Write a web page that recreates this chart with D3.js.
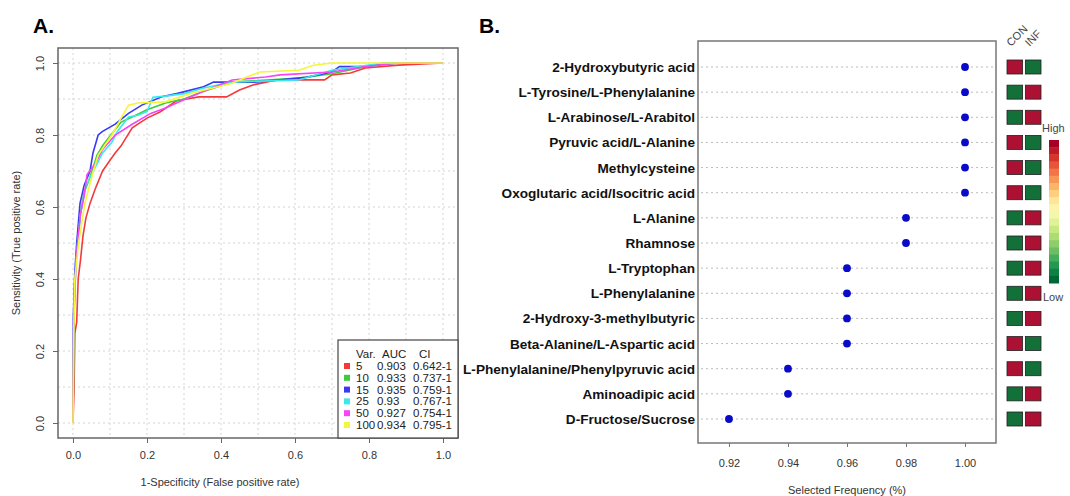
<!DOCTYPE html>
<meta charset="utf-8">
<style>
  body { margin: 0; background: #fff; }
  svg text { font-family: "Liberation Sans", Arial, sans-serif; }
  .panel { font-weight: bold; font-size: 21px; fill: #000; }
  .tick text { fill: #333; font-size: 11px; }
  .axTitle { fill: #333; font-size: 11px; }
  .rowLab { font-weight: bold; font-size: 13.6px; fill: #111; }
  .leg { font-size: 11.5px; fill: #222; }
</style>
<body>
<script src="https://cdn.jsdelivr.net/npm/d3@7"></script>
<script>

// ---- panel A data: ROC curves (fpr, tpr) ----
var roc5 = [[0,0],[0.003,0.1],[0.005,0.25],[0.01,0.28],[0.014,0.40],[0.02,0.45],[0.027,0.52],[0.035,0.57],[0.046,0.61],[0.06,0.65],[0.08,0.70],[0.1,0.73],[0.114,0.75],[0.13,0.77],[0.16,0.82],[0.2,0.847],[0.235,0.864],[0.28,0.895],[0.34,0.906],[0.415,0.906],[0.45,0.925],[0.49,0.94],[0.55,0.953],[0.68,0.953],[0.70,0.967],[0.75,0.972],[0.79,0.986],[0.88,0.994],[1,1]];
var roc10 = [[0,0],[0.003,0.3],[0.008,0.45],[0.02,0.58],[0.03,0.64],[0.045,0.68],[0.065,0.744],[0.08,0.77],[0.095,0.79],[0.13,0.836],[0.16,0.85],[0.2,0.87],[0.25,0.889],[0.30,0.90],[0.35,0.92],[0.4,0.937],[0.43,0.947],[0.61,0.958],[0.70,0.97],[0.79,0.99],[0.88,1],[1,1]];
var roc15 = [[0,0],[0.001,0.3],[0.005,0.42],[0.01,0.5],[0.019,0.61],[0.03,0.66],[0.046,0.70],[0.054,0.75],[0.068,0.80],[0.08,0.81],[0.114,0.83],[0.15,0.86],[0.186,0.883],[0.24,0.906],[0.28,0.915],[0.35,0.933],[0.38,0.947],[0.49,0.947],[0.56,0.953],[0.63,0.96],[0.70,0.975],[0.72,0.99],[0.79,0.99],[0.84,1],[1,1]];
var roc25 = [[0,0],[0.002,0.3],[0.008,0.45],[0.02,0.58],[0.035,0.66],[0.055,0.70],[0.08,0.75],[0.105,0.78],[0.12,0.81],[0.15,0.85],[0.175,0.855],[0.2,0.865],[0.216,0.905],[0.25,0.908],[0.30,0.915],[0.35,0.93],[0.43,0.947],[0.61,0.953],[0.70,0.98],[0.77,0.99],[0.84,1],[1,1]];
var roc50 = [[0,0],[0.002,0.3],[0.008,0.45],[0.02,0.58],[0.03,0.63],[0.038,0.69],[0.06,0.72],[0.08,0.76],[0.114,0.80],[0.16,0.83],[0.21,0.86],[0.25,0.875],[0.28,0.889],[0.34,0.916],[0.43,0.953],[0.52,0.961],[0.56,0.967],[0.70,0.975],[0.79,0.99],[0.88,1],[1,1]];
var roc100 = [[0,0],[0.002,0.25],[0.005,0.40],[0.015,0.5],[0.032,0.61],[0.055,0.70],[0.068,0.744],[0.105,0.80],[0.13,0.847],[0.15,0.883],[0.175,0.889],[0.25,0.892],[0.32,0.916],[0.43,0.944],[0.47,0.961],[0.505,0.975],[0.61,0.98],[0.65,0.994],[0.70,1],[1,1]];

var varNames = ["5", "10", "15", "25", "50", "100"];
var aucValues = ["0.903", "0.933", "0.935", "0.93", "0.927", "0.934"];
var ciLabels = ["0.642-1", "0.737-1", "0.759-1", "0.767-1", "0.754-1", "0.795-1"];
var seriesColors = ["#f23a3a", "#3ccc3c", "#3a3af0", "#3aeaea", "#f545f5", "#f5f53a"];
var rocSeries = [roc5, roc10, roc15, roc25, roc50, roc100];

var rocTicks = [0, 0.2, 0.4, 0.6, 0.8, 1.0];

// ---- panel B data ----
var metabolites = ["2-Hydroxybutyric acid", "L-Tyrosine/L-Phenylalanine", "L-Arabinose/L-Arabitol",
  "Pyruvic acid/L-Alanine", "Methylcysteine", "Oxoglutaric acid/Isocitric acid", "L-Alanine",
  "Rhamnose", "L-Tryptophan", "L-Phenylalanine", "2-Hydroxy-3-methylbutyric",
  "Beta-Alanine/L-Aspartic acid", "L-Phenylalanine/Phenylpyruvic acid", "Aminoadipic acid",
  "D-Fructose/Sucrose"];
var frequency = [1, 1, 1, 1, 1, 1, 0.98, 0.98, 0.96, 0.96, 0.96, 0.96, 0.94, 0.94, 0.92];
// 1 = high, 0 = low
var conLevel = [1, 0, 0, 1, 1, 1, 0, 0, 0, 0, 0, 1, 1, 0, 0];
var infLevel = [0, 1, 1, 0, 0, 0, 1, 1, 1, 1, 1, 0, 0, 1, 1];
var groups = ["CON", "INF"];
var freqTicks = [0.92, 0.94, 0.96, 0.98, 1.00];

var svg = d3.select("body").append("svg")
  .attr("width", 1070)
  .attr("height", 496);

// panel letters
svg.append("text").attr("class", "panel").attr("x", 33).attr("y", 33).text("A.");
svg.append("text").attr("class", "panel").attr("x", 479).attr("y", 33).text("B.");

//////////////////////////////////////////////////
// panel A: ROC
var boxA = { left: 58, right: 458, top: 48, bottom: 438 };
var x = d3.scaleLinear().domain([0, 1]).range([73, 443]);
var y = d3.scaleLinear().domain([0, 1]).range([423, 63]);

var gA = svg.append("g");

// grid
var grid = d3.range(0, 11).map(function (i) { return i / 10; });
gA.selectAll(".vg").data(grid).enter().append("line")
  .attr("x1", function (d) { return x(d); }).attr("x2", function (d) { return x(d); })
  .attr("y1", boxA.top).attr("y2", boxA.bottom)
  .attr("stroke", "#d4d4d4").attr("stroke-dasharray", "2,3");
gA.selectAll(".hg").data(grid).enter().append("line")
  .attr("y1", function (d) { return y(d); }).attr("y2", function (d) { return y(d); })
  .attr("x1", boxA.left).attr("x2", boxA.right)
  .attr("stroke", "#d4d4d4").attr("stroke-dasharray", "2,3");

// curves
var line = d3.line()
  .x(function (d) { return x(d[0]); })
  .y(function (d) { return y(d[1]); });
gA.selectAll(".roc").data(rocSeries).enter().append("path")
  .attr("d", line)
  .attr("fill", "none")
  .attr("stroke-width", 1.6)
  .attr("stroke", function (d, i) { return seriesColors[i]; });

// box
gA.append("rect")
  .attr("x", boxA.left).attr("y", boxA.top)
  .attr("width", boxA.right - boxA.left).attr("height", boxA.bottom - boxA.top)
  .attr("fill", "none").attr("stroke", "#666").attr("stroke-width", 1.5);

// axes
var axB = gA.append("g").attr("transform", "translate(0," + boxA.bottom + ")")
  .call(d3.axisBottom(x).tickValues(rocTicks).tickFormat(d3.format(".1f")).tickSize(5).tickPadding(8));
axB.select(".domain").remove();
axB.selectAll(".tick line").attr("stroke", "#666");

var axL = gA.append("g").attr("transform", "translate(" + boxA.left + ",0)")
  .call(d3.axisLeft(y).tickValues(rocTicks).tickFormat(d3.format(".1f")).tickSize(5));
axL.select(".domain").remove();
axL.selectAll(".tick line").attr("stroke", "#666");
axL.selectAll(".tick text")
  .attr("x", 0).attr("dy", 0)
  .attr("transform", "translate(-14,0) rotate(-90)")
  .attr("text-anchor", "middle");

gA.append("text").attr("class", "axTitle")
  .attr("x", 220).attr("y", 486).attr("text-anchor", "middle")
  .text("1-Specificity (False positive rate)");
gA.append("text").attr("class", "axTitle")
  .attr("transform", "translate(20,243) rotate(-90)").attr("text-anchor", "middle")
  .text("Sensitivity (True positive rate)");

// legend
var leg = gA.append("g");
leg.append("rect").attr("x", 338).attr("y", 340).attr("width", 120).attr("height", 98)
  .attr("fill", "#fff").attr("stroke", "#444").attr("stroke-width", 1.2);
leg.append("text").attr("class", "leg").attr("x", 356).attr("y", 358).text("Var.");
leg.append("text").attr("class", "leg").attr("x", 382).attr("y", 358).text("AUC");
leg.append("text").attr("class", "leg").attr("x", 419).attr("y", 358).text("CI");
var rowY = d3.scaleLinear().domain([0, 5]).range([366, 425]);
varNames.forEach(function (v, i) {
  leg.append("rect").attr("x", 344).attr("y", rowY(i) - 3).attr("width", 6).attr("height", 6)
    .attr("fill", seriesColors[i]);
  leg.append("text").attr("class", "leg").attr("x", 356).attr("y", rowY(i) + 4).text(v);
  leg.append("text").attr("class", "leg").attr("x", 377).attr("y", rowY(i) + 4).text(aucValues[i]);
  leg.append("text").attr("class", "leg").attr("x", 413).attr("y", rowY(i) + 4).text(ciLabels[i]);
});

//////////////////////////////////////////////////
// panel B: selected frequency dot plot
var boxB = { left: 698, right: 996, top: 41, bottom: 443 };
var xf = d3.scaleLinear().domain([0.9095, 1.0105]).range([boxB.left, boxB.right]);
var yr = d3.scalePoint().domain(metabolites).range([67, 419]);

var gB = svg.append("g");

gB.selectAll(".rg").data(metabolites).enter().append("line")
  .attr("x1", boxB.left + 3).attr("x2", boxB.right)
  .attr("y1", function (d) { return yr(d); }).attr("y2", function (d) { return yr(d); })
  .attr("stroke", "#bbb").attr("stroke-dasharray", "2,3");

gB.append("rect")
  .attr("x", boxB.left).attr("y", boxB.top)
  .attr("width", boxB.right - boxB.left).attr("height", boxB.bottom - boxB.top)
  .attr("fill", "none").attr("stroke", "#777").attr("stroke-width", 1.5);

gB.selectAll(".dot").data(metabolites).enter().append("circle")
  .attr("cx", function (d, i) { return xf(frequency[i]); })
  .attr("cy", function (d) { return yr(d); })
  .attr("r", 3.9)
  .attr("fill", "#0a0ac8");

gB.selectAll(".rowLab").data(metabolites).enter().append("text")
  .attr("class", "rowLab")
  .attr("x", boxB.left - 3)
  .attr("y", function (d) { return yr(d) + 5; })
  .attr("text-anchor", "end")
  .text(function (d) { return d; });

var axF = gB.append("g").attr("transform", "translate(0," + boxB.bottom + ")")
  .call(d3.axisBottom(xf).tickValues(freqTicks).tickFormat(d3.format(".2f")).tickSize(4).tickPadding(12));
axF.select(".domain").remove();
axF.selectAll(".tick line").attr("stroke", "#777");

gB.append("text").attr("class", "axTitle")
  .attr("x", 847).attr("y", 494).attr("text-anchor", "middle")
  .text("Selected Frequency (%)");

// heat squares
var hiCol = "#ac1133", loCol = "#137039";
var colX = d3.scaleBand().domain(groups).range([1007, 1041]).paddingInner(0.15);
[conLevel, infLevel].forEach(function (lev, g) {
  gB.selectAll(".sq" + g).data(metabolites).enter().append("rect")
    .attr("x", colX(groups[g]))
    .attr("y", function (d) { return yr(d) - 7; })
    .attr("width", colX.bandwidth())
    .attr("height", 14)
    .attr("fill", function (d, i) { return lev[i] ? hiCol : loCol; })
    .attr("stroke", "#222").attr("stroke-width", 0.8);
});
groups.forEach(function (gname) {
  gB.append("text")
    .attr("transform", "translate(" + (colX(gname) + 4) + ",47) rotate(-45)")
    .attr("font-size", "11px").attr("fill", "#444")
    .text(gname);
});

// colour key
var nBands = 20;
var bandY = d3.scaleBand().domain(d3.range(nBands)).range([140, 283]);
gB.selectAll(".key").data(d3.range(nBands)).enter().append("rect")
  .attr("x", 1049).attr("width", 10)
  .attr("y", function (d) { return bandY(d); })
  .attr("height", bandY.bandwidth() + 0.5)
  .attr("fill", function (d) { return d3.interpolateRdYlGn(d / (nBands - 1)); });
gB.append("text").attr("x", 1042).attr("y", 132).attr("font-size", "11px").attr("fill", "#444").text("High");
gB.append("text").attr("x", 1043).attr("y", 301).attr("font-size", "11px").attr("fill", "#444").text("Low");

</script>
</body>
